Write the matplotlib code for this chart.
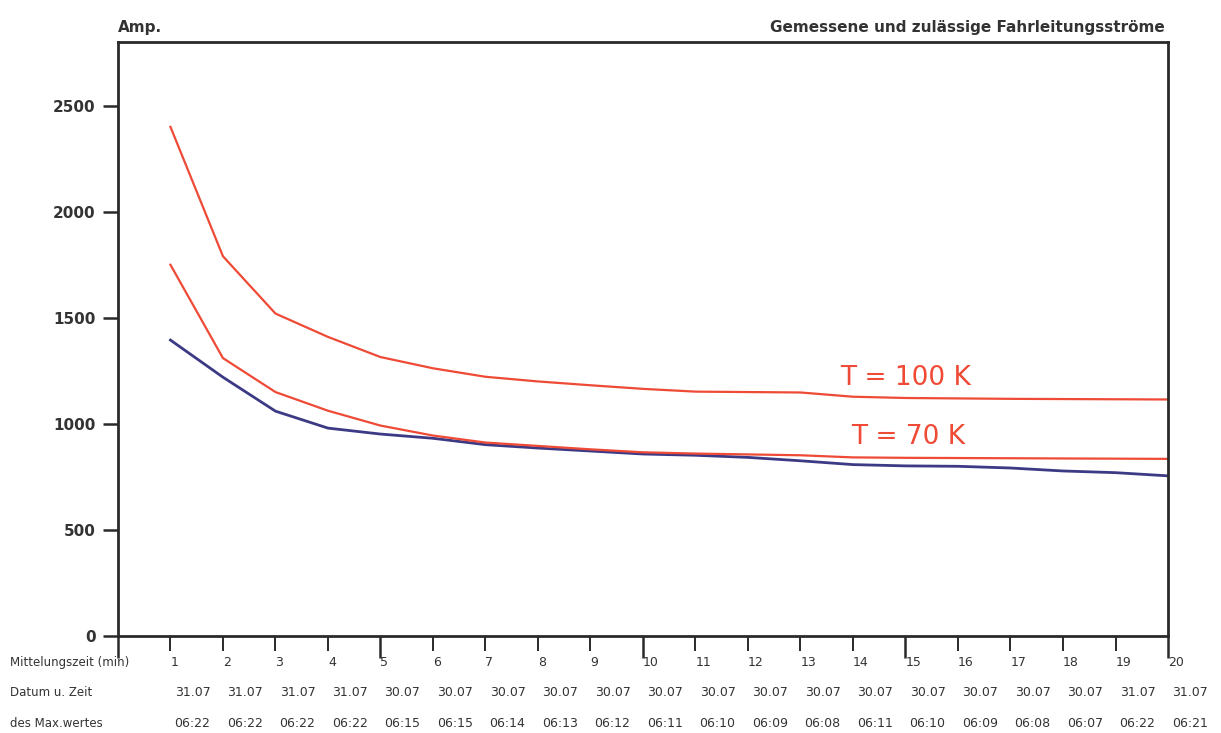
import matplotlib.pyplot as plt
import matplotlib.transforms as mtransforms
from matplotlib.ticker import MultipleLocator

minutes = list(range(1, 21))

limit_100k = [2400, 1790, 1520, 1410, 1315, 1262, 1222, 1200, 1182, 1165,
              1152, 1150, 1148, 1128, 1122, 1120, 1118, 1117, 1116, 1115]
limit_70k = [1750, 1310, 1150, 1062, 992, 945, 912, 896, 880, 866,
             860, 856, 852, 842, 840, 839, 838, 837, 836, 835]
measured = [1395, 1220, 1060, 980, 952, 932, 902, 886, 872, 858,
            852, 842, 826, 808, 802, 800, 792, 778, 770, 755]

dates = ['31.07', '31.07', '31.07', '31.07', '30.07', '30.07', '30.07', '30.07',
         '30.07', '30.07', '30.07', '30.07', '30.07', '30.07', '30.07', '30.07',
         '30.07', '30.07', '31.07', '31.07']
times = ['06:22', '06:22', '06:22', '06:22', '06:15', '06:15', '06:14', '06:13',
         '06:12', '06:11', '06:10', '06:09', '06:08', '06:11', '06:10', '06:09',
         '06:08', '06:07', '06:22', '06:21']
row_labels = ['Mittelungszeit (min)', 'Datum u. Zeit', 'des Max.wertes']

red = '#ee4a36'
blue = '#3d3a85'
dark = '#2a2a2a'

fig = plt.figure(figsize=(12.21, 7.33), dpi=100)
ax = fig.add_axes([0.0966, 0.1323, 0.86, 0.8104])

ax.plot(minutes, measured, color=blue, lw=2)
ax.plot(minutes, limit_70k, color=red, lw=1.6)
ax.plot(minutes, limit_100k, color=red, lw=1.6)

ax.set_xlim(0, 20)
ax.set_ylim(0, 2800)

ax.xaxis.set_major_locator(MultipleLocator(5))
ax.xaxis.set_minor_locator(MultipleLocator(1))
ax.yaxis.set_major_locator(MultipleLocator(500))
ax.tick_params(axis='x', which='major', length=16, width=1.8, color=dark, labelbottom=False)
ax.tick_params(axis='x', which='minor', length=11, width=1.4, color=dark)
ax.tick_params(axis='y', which='major', length=11, width=1.8, color=dark, pad=5,
               labelsize=11, labelcolor='#333333')
for lbl in ax.get_yticklabels():
    lbl.set_fontweight('bold')
for sp in ax.spines.values():
    sp.set_linewidth(2)
    sp.set_color(dark)

narrow = ['Liberation Sans Narrow', 'DejaVu Sans']
ax.text(15.0, 1217, 'T = 100 K', color=red, fontsize=19, ha='center', va='center',
        family=narrow)
ax.text(15.05, 939, 'T = 70 K', color=red, fontsize=19, ha='center', va='center',
        family=narrow)

fig.text(0.0966, 0.962, 'Amp.', fontsize=11, fontweight='bold', color='#333333',
         ha='left', va='center')
fig.text(0.954, 0.962, 'Gemessene und zulässige Fahrleitungsströme', fontsize=11,
         fontweight='bold', color='#333333', ha='right', va='center')

# table under the x axis
trans = mtransforms.blended_transform_factory(ax.transData, fig.transFigure)
row_y = [0.0955, 0.0546, 0.0136]
for label, y in zip(row_labels, row_y):
    fig.text(0.008, y, label, fontsize=8.5, color='#333333', ha='left', va='center')
for i, m in enumerate(minutes):
    c = m + 0.42
    ax.text(c - 0.42, row_y[0], str(m), transform=trans, fontsize=9, color='#333333',
            ha='left', va='center', clip_on=False)
    ax.text(c, row_y[1], dates[i], transform=trans, fontsize=9, color='#333333',
            ha='center', va='center', clip_on=False)
    ax.text(c, row_y[2], times[i], transform=trans, fontsize=9, color='#333333',
            ha='center', va='center', clip_on=False)

fig.savefig('out.png', dpi=100)
